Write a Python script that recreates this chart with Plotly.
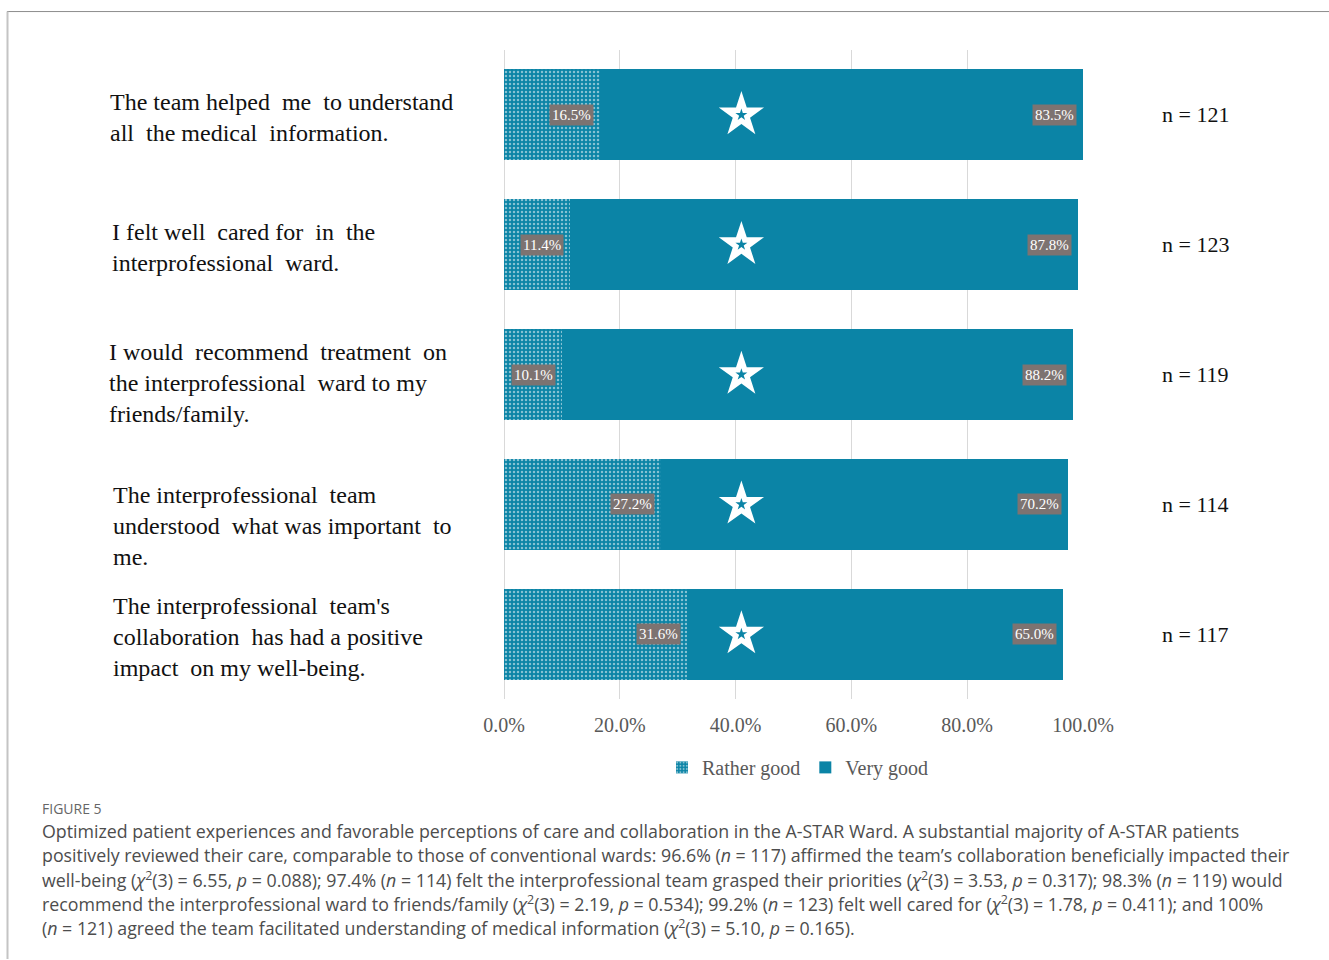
import plotly.graph_objects as go

# ---------------- data ----------------
categories = ["q1", "q2", "q3", "q4", "q5"]
category_labels = [
    "The team helped  me  to understand<br>all  the medical  information.",
    "I felt well  cared for  in  the<br>interprofessional  ward.",
    "I would  recommend  treatment  on<br>the interprofessional  ward to my<br>friends/family.",
    "The interprofessional  team<br>understood  what was important  to<br>me.",
    "The interprofessional  team's<br>collaboration  has had a positive<br>impact  on my well-being.",
]
rather_good = [16.5, 11.4, 10.1, 27.2, 31.6]
very_good = [83.5, 87.8, 88.2, 70.2, 65.0]
n_labels = ["n = 121", "n = 123", "n = 119", "n = 114", "n = 117"]
star_x = [41, 41, 41, 41, 41]
tick_vals = [0, 20, 40, 60, 80, 100]
tick_text = ["0.0%", "20.0%", "40.0%", "60.0%", "80.0%", "100.0%"]

caption_title = "FIGURE 5"
caption_lines = [
    "Optimized patient experiences and favorable perceptions of care and collaboration in the A-STAR Ward. A substantial majority of A-STAR patients",
    "positively reviewed their care, comparable to those of conventional wards: 96.6% (<i>n</i> = 117) affirmed the team\u2019s collaboration beneficially impacted their",
    "well-being (<i>\u03c7</i><sup>2</sup>(3) = 6.55, <i>p</i> = 0.088); 97.4% (<i>n</i> = 114) felt the interprofessional team grasped their priorities (<i>\u03c7</i><sup>2</sup>(3) = 3.53, <i>p</i> = 0.317); 98.3% (<i>n</i> = 119) would",
    "recommend the interprofessional ward to friends/family (<i>\u03c7</i><sup>2</sup>(3) = 2.19, <i>p</i> = 0.534); 99.2% (<i>n</i> = 123) felt well cared for (<i>\u03c7</i><sup>2</sup>(3) = 1.78, <i>p</i> = 0.411); and 100%",
    "(<i>n</i> = 121) agreed the team facilitated understanding of medical information (<i>\u03c7</i><sup>2</sup>(3) = 5.10, <i>p</i> = 0.165).",
]

# ---------------- layout geometry ----------------
W, H = 1329, 960
L, R = 504, 1083
T, B = 49.5, 699.5
TEAL = "#0b84a6"
SERIF = "Liberation Serif"
SANS = "Open Sans"


def px_x(px):
    return (px - L) / (R - L)


def px_y(py):
    return (B - py) / (B - T)


fig = go.Figure()

fig.add_trace(go.Bar(
    y=categories, x=rather_good, orientation="h", name="Rather good",
    marker=dict(color=TEAL, line=dict(width=0),
                pattern=dict(shape=".", fgcolor="white", bgcolor=TEAL,
                             size=4, solidity=0.3)),
    width=0.7, hoverinfo="skip",
))
fig.add_trace(go.Bar(
    y=categories, x=very_good, orientation="h", name="Very good",
    marker=dict(color=TEAL, line=dict(width=0)),
    width=0.7, hoverinfo="skip",
))
# stars
fig.add_trace(go.Scatter(
    x=star_x, y=categories, mode="markers", showlegend=False,
    marker=dict(symbol="star", size=34, color="white", line=dict(width=0)),
    hoverinfo="skip",
))
fig.add_trace(go.Scatter(
    x=star_x, y=categories, mode="markers", showlegend=False,
    marker=dict(symbol="star", size=9, color=TEAL, line=dict(width=0)),
    hoverinfo="skip",
))

annotations = []
# value labels with gray boxes
for c, rg, vg in zip(categories, rather_good, very_good):
    for xend, val in ((rg, rg), (rg + vg, vg)):
        annotations.append(dict(
            x=xend, y=c, xref="x", yref="y", text=f"{val:.1f}%",
            showarrow=False, xanchor="right", yanchor="middle", xshift=-6,
            bgcolor="#7d7371", borderpad=2,
            font=dict(family=SERIF, size=15, color="white"),
        ))

# category labels
label_px_x = [108, 110, 107, 111, 111]
label_yshift = [-3, -3, -8, -22, -3]
for c, txt, lx, ys in zip(categories, category_labels, label_px_x, label_yshift):
    annotations.append(dict(
        x=px_x(lx), y=c, xref="paper", yref="y", text=txt.replace("  ", "\u00a0\u00a0"),
        showarrow=False, xanchor="left", yanchor="middle", align="left", yshift=ys,
        font=dict(family=SERIF, size=24, color="#111111"),
    ))

# n labels
for c, nl in zip(categories, n_labels):
    annotations.append(dict(
        x=px_x(1195), y=c, xref="paper", yref="y", text=nl,
        showarrow=False, xanchor="center", yanchor="middle",
        font=dict(family=SERIF, size=22, color="#111111"),
    ))

# caption
annotations.append(dict(
    x=px_x(40), y=px_y(809), xref="paper", yref="paper", text=caption_title,
    showarrow=False, xanchor="left", yanchor="middle",
    font=dict(family=SANS, size=14, color="#666666"),
))
for i, line in enumerate(caption_lines):
    annotations.append(dict(
        x=px_x(40), y=px_y(832 + 24 * i), xref="paper", yref="paper", text=line,
        showarrow=False, xanchor="left", yanchor="middle",
        font=dict(family=SANS, size=17.8, color="#4d4d4d"),
    ))

shapes = [
    dict(type="line", xref="paper", yref="paper", x0=px_x(7), x1=px_x(1329),
         y0=px_y(11), y1=px_y(11), line=dict(color="#8c8c8c", width=1)),
    dict(type="line", xref="paper", yref="paper", x0=px_x(7.5), x1=px_x(7.5),
         y0=px_y(11), y1=px_y(960), line=dict(color="#c4c4c4", width=2)),
]

fig.update_layout(
    width=W, height=H,
    margin=dict(l=L, r=W - R, t=T, b=H - B, autoexpand=False),
    paper_bgcolor="white", plot_bgcolor="white",
    barmode="stack", bargap=0.3,
    xaxis=dict(range=[0, 100], tickvals=tick_vals, ticktext=tick_text,
               showgrid=True, gridcolor="#d9d9d9", gridwidth=1,
               zeroline=True, zerolinecolor="#d9d9d9", zerolinewidth=1,
               showline=False, ticks="", ticklabelstandoff=12,
               tickfont=dict(family=SERIF, size=20, color="#595959"),
               fixedrange=True),
    yaxis=dict(categoryorder="array", categoryarray=categories,
               autorange="reversed", showticklabels=False, showgrid=False,
               zeroline=False, showline=False, ticks="", fixedrange=True),
    legend=dict(orientation="h", x=px_x(798), y=px_y(768), xanchor="center",
                yanchor="middle", font=dict(family=SERIF, size=20, color="#595959"),
                itemwidth=30, traceorder="normal", bgcolor="rgba(0,0,0,0)"),
    annotations=annotations,
    shapes=shapes,
    showlegend=True,
)

fig.write_html("out.html")
